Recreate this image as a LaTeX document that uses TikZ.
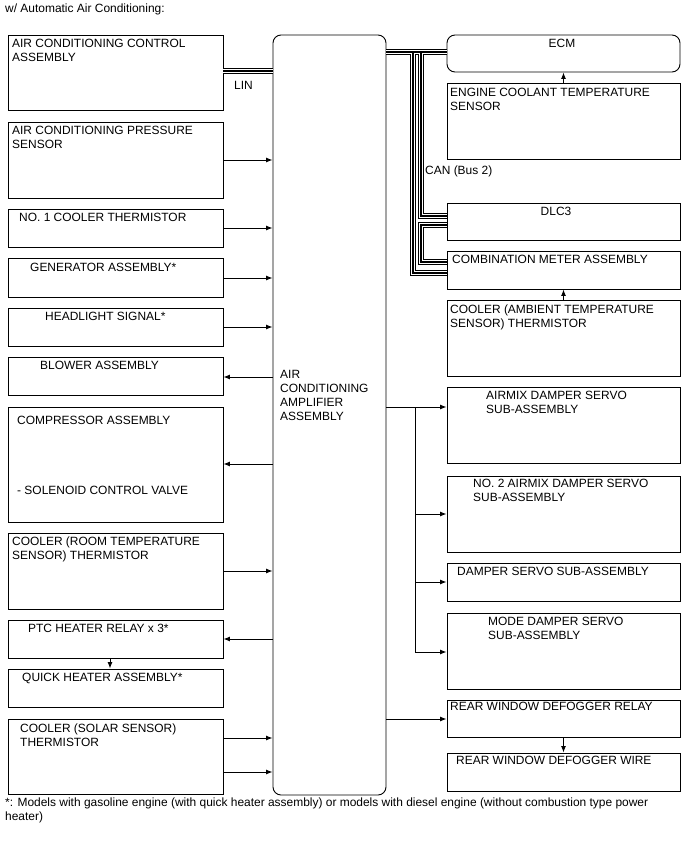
\documentclass[tikz,border=0pt]{standalone}
\usepackage{fontspec}
\setmainfont{Liberation Sans}
\usetikzlibrary{arrows.meta,fit}
\begin{document}
\begin{tikzpicture}[x=1bp,y=-1bp,
  box/.style={draw=black,line width=0.9bp,inner sep=0pt},
  rbox/.style={box,rounded corners=8bp},
  lbl/.style={anchor=base west,inner sep=0pt,font=\fontsize{12}{14}\selectfont},
  arr/.style={line width=1bp,-{Latex[length=6.5bp,width=5bp]}},
]
\useasboundingbox (0,0) rectangle (688,852);
\fill[white] (0,0) rectangle (688,852);
\newcommand\bx[6][box]{\node[#1,fit={(#3,#4) (#5,#6)}] (#2) {};}
\newcommand\lb[4]{\node[lbl] (#1) at (#2,#3) {#4};}
% left column
\bx{b1}{8}{35}{223}{110}
\bx{b2}{8}{122}{223}{198}
\bx{b3}{8}{209}{223}{247}
\bx{b4}{8}{258}{223}{297}
\bx{b5}{8}{308}{223}{346}
\bx{b6}{8}{357}{223}{395}
\bx{b7}{8}{407}{223}{522}
\bx{b8}{8}{533}{223}{609}
\bx{b9}{8}{620}{223}{658}
\bx{b10}{8}{669}{223}{707}
\bx{b11}{8}{719}{223}{794}
% amplifier
\bx[rbox]{amp}{273}{35}{386}{795}
% right column
\bx[rbox]{ecm}{447}{35}{680}{72}
\bx{ect}{447}{83}{680}{159}
\bx{dlc}{447}{203}{680}{240}
\bx{combo}{447}{251}{680}{289}
\bx{amb}{447}{300}{680}{376}
\bx{airmix}{447}{387}{680}{463}
\bx{no2}{447}{476}{680}{552}
\bx{ds}{447}{563}{680}{601}
\bx{mode}{447}{613}{680}{689}
\bx{relay}{447}{700}{680}{737}
\bx{wire}{447}{753}{680}{791}
% labels
\lb{title}{5}{12}{w/ Automatic Air Conditioning:}
\lb{t1a}{12}{47}{AIR CONDITIONING CONTROL}
\lb{t1b}{12}{61}{ASSEMBLY}
\lb{t2a}{12}{134}{AIR CONDITIONING PRESSURE}
\lb{t2b}{12}{148}{SENSOR}
\lb{t3}{19}{221}{NO. 1 COOLER THERMISTOR}
\lb{t4}{30}{271}{GENERATOR ASSEMBLY*}
\lb{t5}{45}{320}{HEADLIGHT SIGNAL*}
\lb{t6}{40}{369}{BLOWER ASSEMBLY}
\lb{t7a}{17}{424}{COMPRESSOR ASSEMBLY}
\lb{t7b}{17}{494}{- SOLENOID CONTROL VALVE}
\lb{t8a}{12}{545}{COOLER (ROOM TEMPERATURE}
\lb{t8b}{12}{559}{SENSOR) THERMISTOR}
\lb{t9}{28}{632}{PTC HEATER RELAY x 3*}
\lb{t10}{22}{681}{QUICK HEATER ASSEMBLY*}
\lb{t11a}{20}{732}{COOLER (SOLAR SENSOR)}
\lb{t11b}{20}{746}{THERMISTOR}
\lb{ta1}{280}{378}{AIR}
\lb{ta2}{280}{392}{CONDITIONING}
\lb{ta3}{280}{406}{AMPLIFIER}
\lb{ta4}{280}{420}{ASSEMBLY}
\node[lbl,anchor=base] (tecm) at (562,47) {ECM};
\lb{tecta}{450}{96}{ENGINE COOLANT TEMPERATURE}
\lb{tectb}{450}{110}{SENSOR}
\lb{tcan}{425}{174}{CAN (Bus 2)}
\node[lbl,anchor=base] (tdlc) at (556,215) {DLC3};
\lb{tcombo}{452}{263}{COMBINATION METER ASSEMBLY}
\lb{tamba}{450}{313}{COOLER (AMBIENT TEMPERATURE}
\lb{tambb}{450}{327}{SENSOR) THERMISTOR}
\lb{tairmixa}{486}{399}{AIRMIX DAMPER SERVO}
\lb{tairmixb}{486}{413}{SUB-ASSEMBLY}
\lb{tno2a}{473}{487}{NO. 2 AIRMIX DAMPER SERVO}
\lb{tno2b}{473}{501}{SUB-ASSEMBLY}
\lb{tds}{457}{575}{DAMPER SERVO SUB-ASSEMBLY}
\lb{tmodea}{488}{625}{MODE DAMPER SERVO}
\lb{tmodeb}{488}{639}{SUB-ASSEMBLY}
\lb{trelay}{450}{710}{REAR WINDOW DEFOGGER RELAY}
\lb{twire}{456}{764}{REAR WINDOW DEFOGGER WIRE}
\lb{tlin}{234}{89}{LIN}
\lb{tfna}{5}{806}{*: Models with gasoline engine (with quick heater assembly) or models with diesel engine (without combustion type power}
\lb{tfnb}{5}{820}{heater)}
% buses (LIN and CAN)
\coordinate (j1) at (413,52);
\coordinate (j2) at (421,52);
\foreach \w/\c in {6/black,3.6/white,1.3/black}
  \draw[line width=\w bp,\c]
    (b1.east |- 0,71) -- (amp.west |- 0,71)
    (amp.east |- 0,52) -- (ecm.west |- 0,52)
    (j1) -- (413,273) -- (combo.west |- 0,273)
    (j2) -- (421,216) -- (dlc.west |- 0,216)
    (dlc.west |- 0,225) -- (421,225) -- (421,262) -- (combo.west |- 0,262);
% left arrows
\draw[arr] (b2.east |- 0,160) -- (amp.west |- 0,160);
\draw[arr] (b3.east |- 0,228) -- (amp.west |- 0,228);
\draw[arr] (b4.east |- 0,278) -- (amp.west |- 0,278);
\draw[arr] (b5.east |- 0,327) -- (amp.west |- 0,327);
\draw[arr] (amp.west |- 0,377) -- (b6.east |- 0,377);
\draw[arr] (amp.west |- 0,464) -- (b7.east |- 0,464);
\draw[arr] (b8.east |- 0,571) -- (amp.west |- 0,571);
\draw[arr] (amp.west |- 0,639) -- (b9.east |- 0,639);
\draw[arr] (b9.south -| 110,0) -- (b10.north -| 110,0);
\draw[arr] (b11.east |- 0,738) -- (amp.west |- 0,738);
\draw[arr] (b11.east |- 0,772) -- (amp.west |- 0,772);
% right arrows
\draw[arr] (ect.north) -- (ecm.south);
\draw[arr] (amb.north) -- (combo.south);
\coordinate (br) at (415,407);
\draw[arr] (amp.east |- 0,407) -- (airmix.west |- 0,407);
\draw[line width=1bp] (br) -- (415,652);
\draw[arr] (br |- 0,514) -- (no2.west |- 0,514);
\draw[arr] (br |- 0,582) -- (ds.west |- 0,582);
\draw[arr] (br |- 0,652) -- (mode.west |- 0,652);
\draw[arr] (amp.east |- 0,719) -- (relay.west |- 0,719);
\draw[arr] (relay.south) -- (wire.north);
\end{tikzpicture}
\end{document}
